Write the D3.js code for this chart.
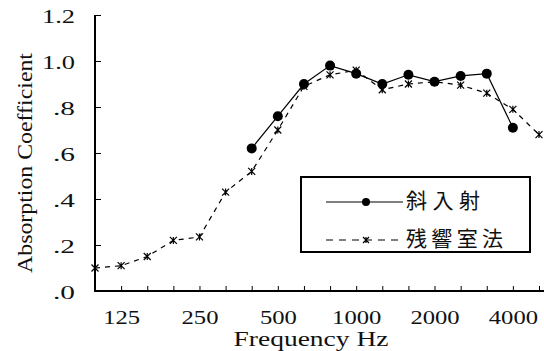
<!DOCTYPE html>
<html>
<head>
<meta charset="utf-8">
<script src="https://cdn.jsdelivr.net/npm/d3@7"></script>
<style>
  html, body { margin: 0; padding: 0; background: #fff; }
  svg { display: block; }
</style>
</head>
<body>
<svg id="chart" width="544" height="351"></svg>
<script>
// ---- data ----
const categories = ["100","125","160","200","250","315","400","500","630","800","1000","1250","1600","2000","2500","3150","4000","5000"];
const xTickLabels = ["125","250","500","1000","2000","4000"];
const yTickValues = [0, 0.2, 0.4, 0.6, 0.8, 1.0, 1.2];
const seriesNames = ["斜入射", "残響室法"];
const oblique = [null,null,null,null,null,null,0.62,0.76,0.90,0.98,0.945,0.90,0.94,0.91,0.935,0.945,0.71,null];
const reverb  = [0.10,0.11,0.15,0.22,0.235,0.43,0.52,0.70,0.89,0.94,0.96,0.875,0.90,0.91,0.895,0.86,0.79,0.68];

// ---- layout ----
const svg = d3.select("#chart");
const x = d3.scalePoint().domain(categories).range([95, 539]);
const y = d3.scaleLinear().domain([0, 1.2]).range([291, 15]);
const serifFont = "'Liberation Serif', 'DejaVu Serif', serif";

// x axis ticks
const xAxis = d3.axisBottom(x)
  .tickSizeInner(-5).tickSizeOuter(0)
  .tickFormat(d => xTickLabels.includes(d) ? d : "");
const gx = svg.append("g").attr("transform", "translate(0,291)").call(xAxis);
gx.select(".domain").remove();
gx.selectAll(".tick line").attr("stroke", "#000").attr("stroke-width", 1);
gx.selectAll(".tick text")
  .attr("y", 33).attr("dy", 0)
  .attr("fill", "#111")
  .style("font-family", serifFont).style("font-size", "19px")
  .attr("textLength", d => xTickLabels.includes(d) ? d.length * 12.3 : null)
  .attr("lengthAdjust", "spacingAndGlyphs");

// y axis ticks
const yFmt = d => { const s = d3.format(".1f")(d); return s.startsWith("0") ? s.slice(1) : s; };
const yAxis = d3.axisLeft(y).tickValues(yTickValues)
  .tickSizeInner(-6).tickSizeOuter(0)
  .tickFormat(yFmt);
const gy = svg.append("g").attr("transform", "translate(95,0)").call(yAxis);
gy.select(".domain").remove();
gy.selectAll(".tick line").attr("stroke", "#000").attr("stroke-width", 1);
gy.selectAll(".tick text")
  .attr("x", -20).attr("dy", "0.4em")
  .attr("fill", "#111")
  .style("font-family", serifFont).style("font-size", "18px")
  .attr("textLength", d => yFmt(d).length * 11)
  .attr("lengthAdjust", "spacingAndGlyphs");

// axis lines
svg.append("line").attr("x1", 95).attr("x2", 95).attr("y1", 15).attr("y2", 292)
  .attr("stroke", "#000").attr("stroke-width", 2);
svg.append("line").attr("x1", 94).attr("x2", 544).attr("y1", 291).attr("y2", 291)
  .attr("stroke", "#000").attr("stroke-width", 2);

// axis titles
svg.append("text").attr("x", 311).attr("y", 346).attr("text-anchor", "middle")
  .attr("fill", "#111")
  .style("font-family", serifFont).style("font-size", "20px")
  .attr("textLength", 155).attr("lengthAdjust", "spacingAndGlyphs")
  .text("Frequency Hz");
svg.append("text").attr("transform", "translate(32,163) rotate(-90)")
  .attr("text-anchor", "middle").attr("fill", "#111")
  .style("font-family", serifFont).style("font-size", "22px")
  .attr("textLength", 220).attr("lengthAdjust", "spacingAndGlyphs")
  .text("Absorption Coefficient");

// series
const idx = categories.map((c, i) => i);
const lineGen = arr => d3.line()
  .defined(i => arr[i] != null)
  .x(i => x(categories[i])).y(i => y(arr[i]));

const starPath = s => `M${-s},${-s}L${s},${s}M${-s},${s}L${s},${-s}M0,${-s}L0,${s}`;

// reverb (dashed, star)
svg.append("path").datum(idx).attr("d", lineGen(reverb))
  .attr("fill", "none").attr("stroke", "#000").attr("stroke-width", 1.2)
  .attr("stroke-dasharray", "5,5");
svg.append("g").selectAll("path").data(idx.filter(i => reverb[i] != null)).join("path")
  .attr("transform", i => `translate(${x(categories[i])},${y(reverb[i])})`)
  .attr("d", starPath(3.5))
  .attr("fill", "none").attr("stroke", "#000").attr("stroke-width", 1.2);

// oblique (solid, circle)
svg.append("path").datum(idx).attr("d", lineGen(oblique))
  .attr("fill", "none").attr("stroke", "#000").attr("stroke-width", 1.2);
svg.append("g").selectAll("circle").data(idx.filter(i => oblique[i] != null)).join("circle")
  .attr("cx", i => x(categories[i])).attr("cy", i => y(oblique[i]))
  .attr("r", 5).attr("fill", "#000");

// legend
const lg = svg.append("g");
lg.append("rect").attr("x", 301).attr("y", 177).attr("width", 229).attr("height", 75)
  .attr("fill", "#fff").attr("stroke", "#000").attr("stroke-width", 2);
lg.append("line").attr("x1", 326).attr("x2", 403).attr("y1", 202).attr("y2", 202)
  .attr("stroke", "#000").attr("stroke-width", 1.2);
lg.append("circle").attr("cx", 366).attr("cy", 202).attr("r", 4).attr("fill", "#000");
lg.append("line").attr("x1", 326).attr("x2", 403).attr("y1", 240).attr("y2", 240)
  .attr("stroke", "#000").attr("stroke-width", 1.2).attr("stroke-dasharray", "7,6");
lg.append("path").attr("transform", "translate(366,240)").attr("d", starPath(3))
  .attr("fill", "none").attr("stroke", "#000").attr("stroke-width", 1.2);
const cjk = "'Noto Sans CJK JP', 'Noto Sans CJK SC', sans-serif";
lg.append("text").attr("x", 406).attr("y", 208)
  .style("font-family", cjk).style("font-size", "21px").attr("fill", "#111")
  .attr("textLength", 74).attr("lengthAdjust", "spacing")
  .text(seriesNames[0]);
lg.append("text").attr("x", 406).attr("y", 246)
  .style("font-family", cjk).style("font-size", "21px").attr("fill", "#111")
  .attr("textLength", 97).attr("lengthAdjust", "spacing")
  .text(seriesNames[1]);
</script>
</body>
</html>
